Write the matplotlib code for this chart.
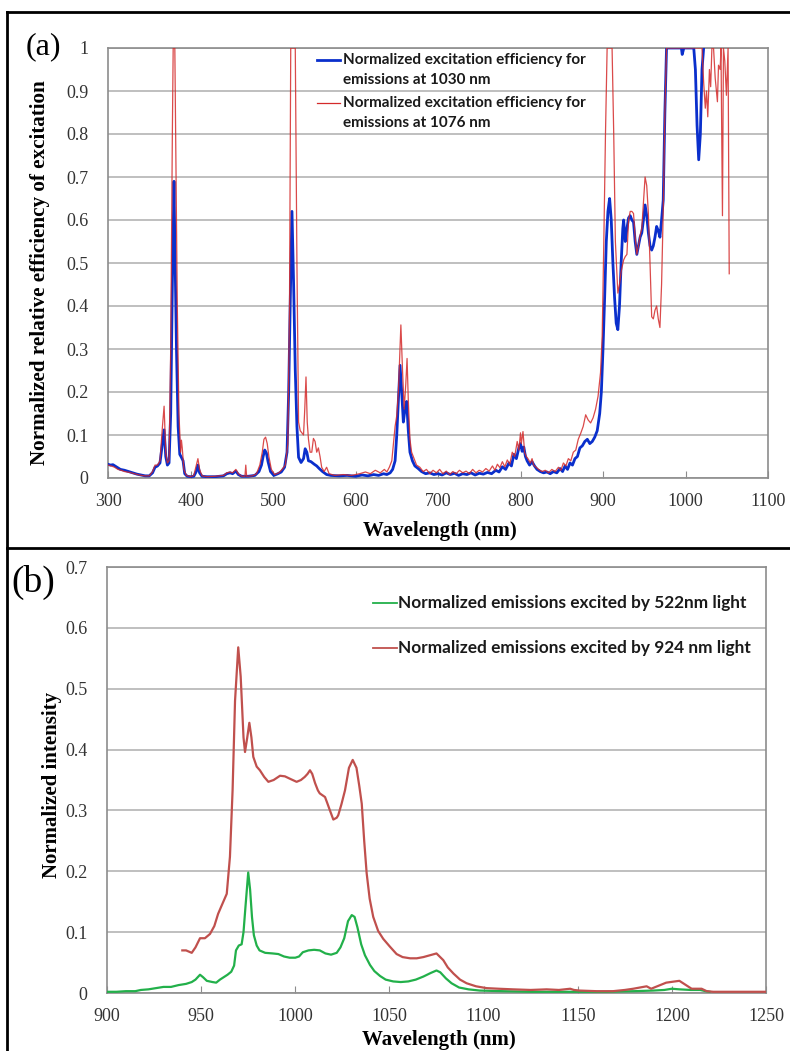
import matplotlib
matplotlib.use("Agg")
import matplotlib.pyplot as plt
from matplotlib.lines import Line2D

# ---- panel (a): excitation spectra ----
wl_1030 = [300, 303, 306, 310, 315, 320, 325, 330, 335, 340, 345, 350, 354, 357, 360, 363, 366, 368, 370, 372,
           374, 376, 378, 380, 381, 383, 385, 387, 389, 391, 393, 396, 400, 404, 407, 409, 411, 414, 420, 430,
           440, 444, 448, 451, 455, 458, 462, 470, 478, 483, 486, 488, 490, 492, 494, 497, 501, 506, 510, 514,
           517, 519, 521, 523, 525, 527, 529, 531, 534, 537, 539, 541, 543, 546, 550, 553, 556, 560, 565, 570,
           580, 590, 600, 608, 615, 622, 628, 634, 638, 642, 645, 648, 650, 652, 654, 656, 658, 660, 662, 664,
           666, 669, 672, 676, 680, 685, 690, 695, 700, 705, 710, 715, 720, 725, 730, 735, 740, 745, 750, 755,
           760, 765, 770, 774, 778, 782, 786, 789, 792, 795, 798, 800, 802, 804, 806, 808, 811, 814, 817, 820,
           824, 828, 832, 836, 840, 844, 848, 851, 854, 857, 860, 863, 866, 869, 872, 875, 878, 881, 884, 887,
           890, 893, 896, 898, 900, 902, 904, 906, 908, 910, 912, 914, 916, 918, 920, 922, 924, 925, 927, 929,
           931, 933, 935, 937, 939, 941, 943, 945, 947, 949, 951, 953, 955, 957, 959, 961, 963, 965, 967, 969,
           971, 973, 975, 977, 995, 996, 998, 1010, 1012, 1014, 1016, 1018, 1020, 1022]
eff_1030 = [0.032, 0.030, 0.031, 0.026, 0.020, 0.018, 0.015, 0.012, 0.009, 0.007, 0.005, 0.005, 0.012, 0.025, 0.028, 0.035, 0.080, 0.112, 0.050, 0.030,
            0.035, 0.150, 0.450, 0.690, 0.550, 0.300, 0.120, 0.055, 0.048, 0.040, 0.010, 0.004, 0.003, 0.004, 0.015, 0.030, 0.012, 0.004, 0.003, 0.003,
            0.005, 0.010, 0.012, 0.010, 0.016, 0.008, 0.004, 0.004, 0.006, 0.015, 0.030, 0.050, 0.065, 0.058, 0.038, 0.015, 0.006, 0.010, 0.014, 0.025,
            0.060, 0.200, 0.420, 0.620, 0.450, 0.250, 0.120, 0.048, 0.036, 0.045, 0.068, 0.060, 0.040, 0.038, 0.032, 0.028, 0.022, 0.015, 0.008, 0.006,
            0.005, 0.006, 0.004, 0.007, 0.005, 0.008, 0.006, 0.010, 0.008, 0.012, 0.020, 0.040, 0.100, 0.180, 0.262, 0.200, 0.130, 0.160, 0.178, 0.110,
            0.060, 0.040, 0.028, 0.022, 0.015, 0.010, 0.012, 0.008, 0.010, 0.007, 0.012, 0.008, 0.011, 0.006, 0.010, 0.008, 0.012, 0.007, 0.011, 0.009,
            0.013, 0.010, 0.018, 0.014, 0.026, 0.020, 0.035, 0.028, 0.055, 0.045, 0.070, 0.080, 0.062, 0.072, 0.050, 0.040, 0.030, 0.038, 0.028, 0.020,
            0.015, 0.012, 0.014, 0.010, 0.015, 0.012, 0.022, 0.015, 0.028, 0.020, 0.035, 0.030, 0.045, 0.050, 0.070, 0.075, 0.085, 0.090, 0.080, 0.085,
            0.095, 0.110, 0.150, 0.200, 0.300, 0.420, 0.550, 0.620, 0.650, 0.600, 0.500, 0.420, 0.360, 0.345, 0.400, 0.500, 0.580, 0.600, 0.550, 0.580,
            0.605, 0.610, 0.600, 0.595, 0.550, 0.520, 0.540, 0.560, 0.570, 0.600, 0.635, 0.610, 0.570, 0.540, 0.530, 0.540, 0.560, 0.585, 0.575, 0.560,
            0.600, 0.646, 0.850, 1.0, 1.0, 0.985, 1.0, 1.0, 0.95, 0.82, 0.740, 0.80, 0.95, 1.0]

wl_1076 = [300, 304, 308, 312, 316, 320, 326, 332, 338, 344, 350, 354, 357, 360, 363, 366, 368, 370, 372, 374,
           376, 378, 379, 381, 382, 384, 386, 388, 389, 390, 392, 395, 400, 404, 407, 409, 411, 414, 420, 430,
           440, 444, 448, 451, 455, 458, 462, 466, 467, 468, 475, 480, 484, 487, 489, 491, 493, 495, 498, 502,
           507, 511, 515, 518, 520, 521.5, 527, 529, 531, 533, 535, 537, 538.5, 540, 541.5, 543, 545, 547, 549, 551,
           553, 555, 557, 559, 562, 565, 568, 575, 585, 595, 605, 612, 618, 624, 630, 635, 638, 641, 644, 646,
           648, 650, 652, 654, 655, 657, 659, 661, 662.5, 664, 666, 668, 671, 674, 678, 682, 686, 690, 694, 698,
           702, 706, 710, 714, 718, 722, 726, 730, 734, 738, 742, 746, 750, 754, 758, 762, 766, 769, 772, 775,
           778, 781, 784, 787, 790, 793, 796, 798, 800, 801, 803, 805, 807, 809, 812, 814, 816, 819, 822, 826,
           830, 834, 838, 842, 846, 849, 852, 855, 858, 861, 864, 867, 870, 873, 876, 879, 882, 885, 888, 891,
           894, 897, 899, 901, 903, 905, 911, 913, 915, 918, 920, 922, 925, 927, 929, 931, 933, 935, 937, 939,
           941, 943, 945, 947, 949, 951, 953, 955, 957, 959, 961, 963, 965, 967, 969, 971, 973, 975, 977, 1020,
           1022, 1024, 1025.5, 1027, 1029, 1030.5, 1032, 1034, 1036, 1038.7, 1040, 1042, 1043, 1044.8, 1046, 1047.6, 1049.6, 1051.6, 1053]
eff_1076 = [0.030, 0.028, 0.025, 0.020, 0.018, 0.015, 0.013, 0.010, 0.007, 0.005, 0.005, 0.015, 0.030, 0.030, 0.040, 0.120, 0.167, 0.060, 0.035, 0.040,
            0.300, 0.800, 1.0, 1.0, 0.800, 0.400, 0.150, 0.060, 0.088, 0.070, 0.020, 0.006, 0.003, 0.006, 0.030, 0.045, 0.020, 0.005, 0.003, 0.004,
            0.006, 0.012, 0.014, 0.012, 0.020, 0.010, 0.004, 0.004, 0.030, 0.004, 0.005, 0.010, 0.030, 0.060, 0.090, 0.095, 0.080, 0.050, 0.020, 0.008,
            0.012, 0.020, 0.030, 0.080, 0.400, 1.0, 1.0, 0.500, 0.130, 0.110, 0.105, 0.100, 0.160, 0.235, 0.130, 0.090, 0.060, 0.060, 0.092, 0.085,
            0.060, 0.070, 0.050, 0.025, 0.015, 0.025, 0.010, 0.006, 0.008, 0.006, 0.010, 0.014, 0.010, 0.018, 0.012, 0.020, 0.014, 0.025, 0.040, 0.080,
            0.120, 0.145, 0.200, 0.300, 0.356, 0.250, 0.160, 0.220, 0.278, 0.180, 0.090, 0.060, 0.045, 0.030, 0.025, 0.015, 0.020, 0.010, 0.018, 0.012,
            0.020, 0.010, 0.016, 0.008, 0.015, 0.010, 0.018, 0.012, 0.016, 0.010, 0.020, 0.012, 0.018, 0.014, 0.022, 0.016, 0.028, 0.018, 0.032, 0.024,
            0.038, 0.026, 0.042, 0.032, 0.060, 0.050, 0.085, 0.065, 0.105, 0.080, 0.108, 0.060, 0.050, 0.045, 0.035, 0.045, 0.030, 0.025, 0.020, 0.015,
            0.018, 0.012, 0.020, 0.015, 0.025, 0.018, 0.035, 0.028, 0.045, 0.040, 0.060, 0.065, 0.090, 0.104, 0.120, 0.147, 0.135, 0.128, 0.140, 0.160,
            0.190, 0.245, 0.330, 0.550, 0.800, 1.0, 1.0, 0.800, 0.550, 0.430, 0.450, 0.480, 0.507, 0.515, 0.520, 0.600, 0.620, 0.620, 0.615, 0.560,
            0.520, 0.540, 0.565, 0.580, 0.640, 0.700, 0.680, 0.615, 0.500, 0.375, 0.370, 0.390, 0.400, 0.370, 0.350, 0.450, 0.620, 0.850, 1.0, 1.0,
            0.92, 0.86, 0.90, 0.84, 0.95, 0.91, 1.0, 1.0, 0.93, 0.875, 0.96, 0.95, 1.0, 0.61, 1.0, 0.97, 0.89, 1.0, 0.475]

# ---- panel (b): emission spectra ----
wl_522 = [900, 905, 910, 915, 918, 922, 926, 930, 934, 938, 942, 945, 947, 949.4, 951, 953, 956, 958, 960, 962,
          964, 966, 967.5, 968.5, 970, 971.5, 972.5, 973.5, 975, 976, 977, 978, 979.5, 981, 984, 988, 991, 994, 997, 1000,
          1002, 1004, 1007, 1010, 1013, 1016, 1019, 1022, 1024, 1026, 1028, 1030, 1031.5, 1033, 1035, 1037, 1039.7, 1042, 1045, 1048,
          1052, 1056, 1060, 1064, 1068, 1072, 1075, 1077, 1080, 1083, 1087, 1092, 1098, 1110, 1125, 1140, 1150, 1165, 1180, 1190,
          1196, 1200, 1204, 1210, 1215, 1218, 1220]
em_522 = [0.002, 0.002, 0.003, 0.003, 0.005, 0.006, 0.008, 0.010, 0.010, 0.013, 0.015, 0.018, 0.022, 0.030, 0.026, 0.020, 0.018, 0.017, 0.022, 0.026,
          0.030, 0.035, 0.045, 0.070, 0.078, 0.080, 0.100, 0.140, 0.198, 0.170, 0.125, 0.095, 0.078, 0.070, 0.066, 0.065, 0.064, 0.060, 0.058, 0.058,
          0.060, 0.067, 0.070, 0.071, 0.070, 0.065, 0.063, 0.066, 0.075, 0.090, 0.118, 0.128, 0.125, 0.108, 0.080, 0.062, 0.046, 0.036, 0.028, 0.022,
          0.019, 0.018, 0.019, 0.022, 0.027, 0.033, 0.037, 0.034, 0.024, 0.016, 0.009, 0.006, 0.004, 0.003, 0.002, 0.002, 0.002, 0.002, 0.003, 0.004,
          0.005, 0.007, 0.006, 0.005, 0.005, 0.003, 0.002]

wl_924 = [940, 942, 945, 947, 949.4, 952, 954.7, 957, 959, 961.5, 963.6, 965.3, 966.7, 968, 969.7, 971, 972.5, 973.3, 974.5, 975.6,
          976.7, 977.7, 979.5, 981.2, 983.5, 985.7, 988.5, 991.9, 994.5, 997.2, 1000.7, 1003, 1005, 1006.5, 1007.8, 1009, 1010.5, 1012, 1013, 1015.8,
          1017, 1018.4, 1020.2, 1022, 1022.8, 1024.5, 1026.4, 1028.5, 1030.5, 1032.5, 1034, 1035.3, 1036.6, 1037.9, 1039.5, 1041.4, 1044, 1046.7, 1050.3, 1053.8,
          1057, 1061, 1064.5, 1068, 1071.5, 1075, 1078.6, 1081, 1084, 1087.5, 1091, 1096, 1101.6, 1108, 1115.6, 1125, 1133.5, 1140, 1146, 1148,
          1151, 1160, 1168.7, 1175, 1179.5, 1183, 1186.6, 1189, 1193, 1197, 1201.6, 1204, 1206, 1208, 1210.5, 1215.8, 1218.5, 1222, 1235, 1250]
em_924 = [0.070, 0.070, 0.066, 0.075, 0.090, 0.090, 0.097, 0.110, 0.130, 0.148, 0.163, 0.224, 0.333, 0.480, 0.568, 0.520, 0.420, 0.396, 0.420, 0.444,
          0.420, 0.388, 0.372, 0.366, 0.355, 0.347, 0.350, 0.357, 0.356, 0.352, 0.347, 0.350, 0.355, 0.360, 0.366, 0.360, 0.345, 0.333, 0.328, 0.322,
          0.312, 0.300, 0.285, 0.288, 0.292, 0.310, 0.333, 0.370, 0.383, 0.370, 0.340, 0.311, 0.250, 0.197, 0.155, 0.125, 0.102, 0.089, 0.076, 0.064,
          0.059, 0.057, 0.057, 0.059, 0.062, 0.065, 0.054, 0.042, 0.032, 0.022, 0.016, 0.011, 0.008, 0.007, 0.006, 0.005, 0.006, 0.005, 0.007, 0.005,
          0.004, 0.003, 0.003, 0.005, 0.007, 0.009, 0.011, 0.007, 0.012, 0.017, 0.019, 0.020, 0.016, 0.012, 0.007, 0.007, 0.003, 0.002, 0.002, 0.002]

a_yticks = [0, 0.1, 0.2, 0.3, 0.4, 0.5, 0.6, 0.7, 0.8, 0.9, 1]
a_ylabels = ["0", "0.1", "0.2", "0.3", "0.4", "0.5", "0.6", "0.7", "0.8", "0.9", "1"]
a_xticks = [300, 400, 500, 600, 700, 800, 900, 1000, 1100]
b_yticks = [0, 0.1, 0.2, 0.3, 0.4, 0.5, 0.6, 0.7]
b_ylabels = ["0", "0.1", "0.2", "0.3", "0.4", "0.5", "0.6", "0.7"]
b_xticks = [900, 950, 1000, 1050, 1100, 1150, 1200, 1250]

legend_a = [("Normalized excitation efficiency for", "emissions at 1030 nm"),
            ("Normalized excitation efficiency for", "emissions at 1076 nm")]
legend_b = ["Normalized emissions excited by 522nm light",
            "Normalized emissions excited by 924 nm light"]

W, H = 790, 1051
serif = ["Liberation Serif", "DejaVu Serif"]
sans = ["Lato", "DejaVu Sans"]

blue = "#0a2fcc"
red_a = "#d42a2a"
green = "#22b04a"
red_b = "#c0504d"
grid_c = "#b4b4b4"
spine_c = "#8c8c8c"

fig = plt.figure(figsize=(W / 100, H / 100), dpi=100)


def px_axes(l, t, r, b):
    return [l / W, 1 - b / H, (r - l) / W, (b - t) / H]


def style(ax, xticks, yticks, ylabels):
    ax.set_yticks(yticks)
    ax.set_yticklabels(ylabels)
    ax.set_xticks(xticks)
    ax.grid(axis="y", color=grid_c, linewidth=1.2)
    ax.set_axisbelow(True)
    for s in ax.spines.values():
        s.set_color(spine_c)
        s.set_linewidth(1.2)
    ax.tick_params(axis="y", length=0, pad=14, labelsize=13, labelcolor="#333333")
    ax.tick_params(axis="x", direction="in", length=5, color=spine_c, pad=11, labelsize=13, labelcolor="#333333")
    for lab in ax.get_xticklabels() + ax.get_yticklabels():
        lab.set_family(serif)


# panel (a)
ax1 = fig.add_axes(px_axes(108, 48, 768, 478))
ax1.plot(wl_1030, eff_1030, color=blue, linewidth=2.0, zorder=3)
ax1.plot(wl_1076, eff_1076, color=red_a, linewidth=0.9, alpha=0.85, zorder=4)
ax1.set_xlim(300, 1100)
ax1.set_ylim(0, 1)
style(ax1, a_xticks, a_yticks, a_ylabels)

# legend (a), drawn by hand so the marker sits on the first text line
for i, (color, lw, lines) in enumerate([(blue, 2.0, legend_a[0]), (red_a, 0.9, legend_a[1])]):
    y0 = 0.972 - i * 0.1
    ax1.add_line(Line2D([0.3167, 0.3515], [y0, y0], transform=ax1.transAxes, color=color, linewidth=lw))
    for j, txt in enumerate(lines):
        ax1.text(0.356, y0 - j * 0.047, txt, transform=ax1.transAxes, va="center", ha="left",
                 family=sans, fontweight="bold", fontsize=11, color="#1a1a1a")

# panel (b)
ax2 = fig.add_axes(px_axes(107, 567, 766, 993))
ax2.plot(wl_522, em_522, color=green, linewidth=1.6, zorder=3)
ax2.plot(wl_924, em_924, color=red_b, linewidth=1.6, zorder=3)
ax2.set_xlim(900, 1250)
ax2.set_ylim(0, 0.7)
style(ax2, b_xticks, b_yticks, b_ylabels)

for i, (color, txt) in enumerate([(green, legend_b[0]), (red_b, legend_b[1])]):
    y0 = 0.9155 - i * 0.1056
    ax2.add_line(Line2D([0.4036, 0.4401], [y0, y0], transform=ax2.transAxes, color=color, linewidth=1.3))
    ax2.text(0.4416, y0, txt, transform=ax2.transAxes, va="center", ha="left",
             family=sans, fontweight="bold", fontsize=12.4, color="#1a1a1a")

# axis titles and panel letters
fig.text(40 / W, 1 - 273 / H, "Normalized relative efficiency of excitation", rotation=90,
         ha="center", va="center", family=serif, fontweight="bold", fontsize=15.2)
fig.text(440 / W, 1 - 531 / H, "Wavelength (nm)", ha="center", va="center",
         family=serif, fontweight="bold", fontsize=15)
fig.text(52 / W, 1 - 785 / H, "Normalized intensity", rotation=90,
         ha="center", va="center", family=serif, fontweight="bold", fontsize=15)
fig.text(439 / W, 1 - 1040 / H, "Wavelength (nm)", ha="center", va="center",
         family=serif, fontweight="bold", fontsize=15)
fig.text(43 / W, 1 - 47 / H, "(a)", ha="center", va="center", family=serif, fontsize=23)
fig.text(33 / W, 1 - 582 / H, "(b)", ha="center", va="center", family=serif, fontsize=27)

# black panel frames
def fline(xs, ys):
    fig.add_artist(Line2D([x / W for x in xs], [1 - y / H for y in ys], color="black", linewidth=2.0))

fline([7, 790], [12, 12])
fline([7, 7], [12, 1051])
fline([7, 790], [548, 548])

fig.savefig("out.png", dpi=100)
